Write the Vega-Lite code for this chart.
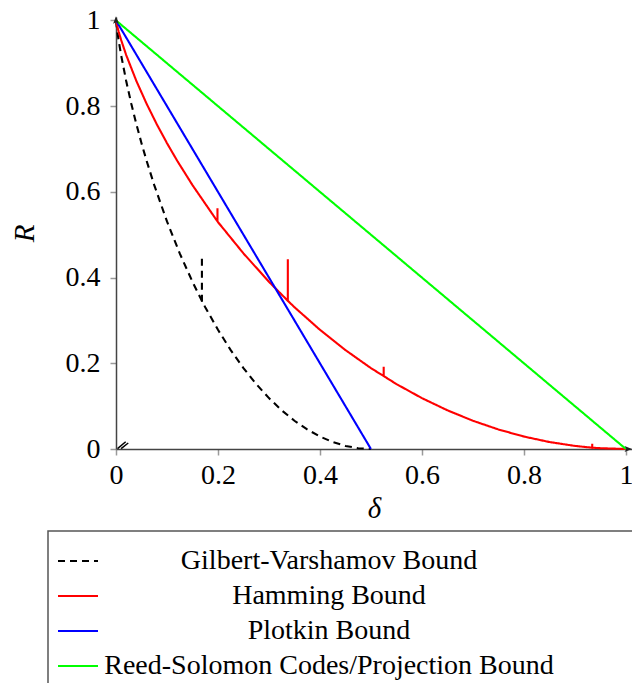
{
  "$schema": "https://vega.github.io/schema/vega-lite/v6.json",
  "width": 516,
  "height": 432,
  "autosize": {"type": "none"},
  "padding": {"left": 116, "top": 17, "right": 0, "bottom": 234},
  "background": "white",
  "datasets": {
    "bounds": [
      {"s": "Gilbert-Varshamov Bound", "i": 0, "d": 0, "r": 1},
      {"s": "Gilbert-Varshamov Bound", "i": 1, "d": 0.001, "r": 0.9886},
      {"s": "Gilbert-Varshamov Bound", "i": 2, "d": 0.0025, "r": 0.9748},
      {"s": "Gilbert-Varshamov Bound", "i": 3, "d": 0.005, "r": 0.9546},
      {"s": "Gilbert-Varshamov Bound", "i": 4, "d": 0.01, "r": 0.9192},
      {"s": "Gilbert-Varshamov Bound", "i": 5, "d": 0.02, "r": 0.8586},
      {"s": "Gilbert-Varshamov Bound", "i": 6, "d": 0.03, "r": 0.8056},
      {"s": "Gilbert-Varshamov Bound", "i": 7, "d": 0.04, "r": 0.7577},
      {"s": "Gilbert-Varshamov Bound", "i": 8, "d": 0.05, "r": 0.7136},
      {"s": "Gilbert-Varshamov Bound", "i": 9, "d": 0.06, "r": 0.6726},
      {"s": "Gilbert-Varshamov Bound", "i": 10, "d": 0.075, "r": 0.6157},
      {"s": "Gilbert-Varshamov Bound", "i": 11, "d": 0.1, "r": 0.531},
      {"s": "Gilbert-Varshamov Bound", "i": 12, "d": 0.125, "r": 0.4564},
      {"s": "Gilbert-Varshamov Bound", "i": 13, "d": 0.15, "r": 0.3902},
      {"s": "Gilbert-Varshamov Bound", "i": 14, "d": 0.1685, "r": 0.3458},
      {"s": "Gilbert-Varshamov Bound", "i": 17, "d": 0.175, "r": 0.3309},
      {"s": "Gilbert-Varshamov Bound", "i": 18, "d": 0.2, "r": 0.2781},
      {"s": "Gilbert-Varshamov Bound", "i": 19, "d": 0.225, "r": 0.2308},
      {"s": "Gilbert-Varshamov Bound", "i": 20, "d": 0.25, "r": 0.1887},
      {"s": "Gilbert-Varshamov Bound", "i": 21, "d": 0.275, "r": 0.1515},
      {"s": "Gilbert-Varshamov Bound", "i": 22, "d": 0.3, "r": 0.1187},
      {"s": "Gilbert-Varshamov Bound", "i": 23, "d": 0.325, "r": 0.0903},
      {"s": "Gilbert-Varshamov Bound", "i": 24, "d": 0.35, "r": 0.0659},
      {"s": "Gilbert-Varshamov Bound", "i": 25, "d": 0.375, "r": 0.0456},
      {"s": "Gilbert-Varshamov Bound", "i": 26, "d": 0.4, "r": 0.029},
      {"s": "Gilbert-Varshamov Bound", "i": 27, "d": 0.425, "r": 0.0163},
      {"s": "Gilbert-Varshamov Bound", "i": 28, "d": 0.45, "r": 0.0072},
      {"s": "Gilbert-Varshamov Bound", "i": 29, "d": 0.475, "r": 0.0019},
      {"s": "Gilbert-Varshamov Bound", "i": 30, "d": 0.5, "r": 0},
      {"s": "Hamming Bound", "i": 0, "d": 0, "r": 1},
      {"s": "Hamming Bound", "i": 1, "d": 0.002, "r": 0.9886},
      {"s": "Hamming Bound", "i": 2, "d": 0.005, "r": 0.9748},
      {"s": "Hamming Bound", "i": 3, "d": 0.01, "r": 0.9546},
      {"s": "Hamming Bound", "i": 4, "d": 0.02, "r": 0.9192},
      {"s": "Hamming Bound", "i": 5, "d": 0.04, "r": 0.8586},
      {"s": "Hamming Bound", "i": 6, "d": 0.06, "r": 0.8056},
      {"s": "Hamming Bound", "i": 7, "d": 0.08, "r": 0.7577},
      {"s": "Hamming Bound", "i": 8, "d": 0.1, "r": 0.7136},
      {"s": "Hamming Bound", "i": 9, "d": 0.12, "r": 0.6726},
      {"s": "Hamming Bound", "i": 10, "d": 0.15, "r": 0.6157},
      {"s": "Hamming Bound", "i": 11, "d": 0.199, "r": 0.531},
      {"s": "Hamming Bound", "i": 12, "d": 0.199, "r": 0.562},
      {"s": "Hamming Bound", "i": 13, "d": 0.199, "r": 0.531},
      {"s": "Hamming Bound", "i": 14, "d": 0.25, "r": 0.4564},
      {"s": "Hamming Bound", "i": 15, "d": 0.3, "r": 0.3902},
      {"s": "Hamming Bound", "i": 16, "d": 0.337, "r": 0.3458},
      {"s": "Hamming Bound", "i": 17, "d": 0.337, "r": 0.443},
      {"s": "Hamming Bound", "i": 18, "d": 0.337, "r": 0.3458},
      {"s": "Hamming Bound", "i": 19, "d": 0.35, "r": 0.3309},
      {"s": "Hamming Bound", "i": 20, "d": 0.4, "r": 0.2781},
      {"s": "Hamming Bound", "i": 21, "d": 0.45, "r": 0.2308},
      {"s": "Hamming Bound", "i": 22, "d": 0.5, "r": 0.1887},
      {"s": "Hamming Bound", "i": 23, "d": 0.525, "r": 0.1702},
      {"s": "Hamming Bound", "i": 24, "d": 0.525, "r": 0.192},
      {"s": "Hamming Bound", "i": 25, "d": 0.525, "r": 0.1702},
      {"s": "Hamming Bound", "i": 26, "d": 0.55, "r": 0.1515},
      {"s": "Hamming Bound", "i": 27, "d": 0.6, "r": 0.1187},
      {"s": "Hamming Bound", "i": 28, "d": 0.65, "r": 0.0903},
      {"s": "Hamming Bound", "i": 29, "d": 0.7, "r": 0.0659},
      {"s": "Hamming Bound", "i": 30, "d": 0.75, "r": 0.0456},
      {"s": "Hamming Bound", "i": 31, "d": 0.8, "r": 0.029},
      {"s": "Hamming Bound", "i": 32, "d": 0.85, "r": 0.0163},
      {"s": "Hamming Bound", "i": 33, "d": 0.9, "r": 0.0072},
      {"s": "Hamming Bound", "i": 34, "d": 0.934, "r": 0.003},
      {"s": "Hamming Bound", "i": 35, "d": 0.934, "r": 0.0125},
      {"s": "Hamming Bound", "i": 36, "d": 0.934, "r": 0.003},
      {"s": "Hamming Bound", "i": 37, "d": 0.95, "r": 0.0019},
      {"s": "Hamming Bound", "i": 38, "d": 1, "r": 0},
      {"s": "Plotkin Bound", "i": 0, "d": 0, "r": 1},
      {"s": "Plotkin Bound", "i": 1, "d": 0.5, "r": 0},
      {"s": "Reed-Solomon Codes/Projection Bound", "i": 0, "d": 0, "r": 1},
      {"s": "Reed-Solomon Codes/Projection Bound", "i": 1, "d": 1, "r": 0}
    ],
    "gvspike": [
      {"d": 0.1685, "r": 0.444},
      {"d": 0.1685, "r": 0.34}
    ],
    "origin": [
      {"g": "a", "d": 0.003, "r": 0.001},
      {"g": "a", "d": 0.019, "r": 0.017},
      {"g": "b", "d": 0.01, "r": 0.001},
      {"g": "b", "d": 0.024, "r": 0.014}
    ],
    "xtip": [{"d": 1.005, "r": 0}],
    "ytip": [{"d": 0, "r": 1.001}]
  },
  "layer": [
    {
      "data": {"name": "bounds"},
      "mark": {"type": "line", "strokeWidth": 2.1, "clip": false},
      "encoding": {
        "x": {"field": "d", "type": "quantitative", "title": "δ",
              "scale": {"domain": [0, 1.012], "nice": false, "zero": false},
              "axis": {"values": [0, 0.2, 0.4, 0.6, 0.8, 1], "format": "~g",
                       "encoding": {"ticks": {"update": {"y": {"value": -6}, "y2": {"value": 6}}}}}},
        "y": {"field": "r", "type": "quantitative", "title": "R",
              "scale": {"domain": [0, 1.008], "nice": false, "zero": false},
              "axis": {"values": [0, 0.2, 0.4, 0.6, 0.8, 1], "format": "~g",
                       "encoding": {"ticks": {"update": {"x": {"value": -6}, "x2": {"value": 6}}}}}},
        "color": {"field": "s", "type": "nominal", "title": " ",
                  "scale": {"domain": ["Gilbert-Varshamov Bound", "Hamming Bound", "Plotkin Bound", "Reed-Solomon Codes/Projection Bound"],
                            "range": ["#000000", "#ff0000", "#0000ff", "#00ff00"]},
                  "legend": {"orient": "none", "legendX": -68, "legendY": 514}},
        "strokeDash": {"field": "s", "type": "nominal", "title": " ",
                  "scale": {"domain": ["Gilbert-Varshamov Bound", "Hamming Bound", "Plotkin Bound", "Reed-Solomon Codes/Projection Bound"],
                            "range": [[7, 5], [1, 0], [1, 0], [1, 0]]},
                  "legend": {"orient": "none", "legendX": -68, "legendY": 514}},
        "order": {"field": "i", "type": "quantitative"}
      }
    },
    {
      "data": {"name": "gvspike"},
      "mark": {"type": "line", "strokeWidth": 2.1, "color": "#000000", "strokeDash": [7, 5], "clip": false},
      "encoding": {
        "x": {"field": "d", "type": "quantitative", "title": "δ"},
        "y": {"field": "r", "type": "quantitative", "title": "R"},
        "order": {"field": "r", "type": "quantitative", "sort": "descending"}
      }
    },
    {
      "data": {"name": "origin"},
      "mark": {"type": "line", "strokeWidth": 1.5, "color": "#000000", "clip": false},
      "encoding": {
        "x": {"field": "d", "type": "quantitative", "title": "δ"},
        "y": {"field": "r", "type": "quantitative", "title": "R"},
        "detail": {"field": "g", "type": "nominal"}
      }
    },
    {
      "data": {"name": "xtip"},
      "mark": {"type": "point", "shape": "M-1,-0.75L1,0L-1,0.75L-0.55,0Z", "size": 60, "filled": true, "color": "#222222", "opacity": 1, "clip": false},
      "encoding": {
        "x": {"field": "d", "type": "quantitative", "title": "δ"},
        "y": {"field": "r", "type": "quantitative", "title": "R"}
      }
    },
    {
      "data": {"name": "ytip"},
      "mark": {"type": "point", "shape": "M-0.75,1L0,-1L0.75,1L0,0.55Z", "size": 60, "filled": true, "color": "#222222", "opacity": 1, "clip": false},
      "encoding": {
        "x": {"field": "d", "type": "quantitative", "title": "δ"},
        "y": {"field": "r", "type": "quantitative", "title": "R"}
      }
    }
  ],
  "config": {
    "view": {"stroke": null},
    "font": "Liberation Serif",
    "axis": {
      "grid": false,
      "labelFont": "Liberation Serif",
      "labelFontSize": 28,
      "labelColor": "#000000",
      "titleFont": "Liberation Serif",
      "titleFontSize": 29,
      "titleFontWeight": "normal",
      "titleFontStyle": "italic",
      "titleColor": "#000000",
      "domainColor": "#444444",
      "domainWidth": 1.5,
      "tickColor": "#9a9a9a",
      "tickWidth": 1.5,
      "tickSize": 6,
      "labelFlush": false,
      "labelOverlap": false
    },
    "axisX": {"labelPadding": 6, "titlePadding": 5},
    "axisY": {"labelPadding": 10, "titlePadding": 26},
    "legend": {
      "padding": 9,
      "strokeColor": "#555555",
      "strokeWidth": 1.5,
      "fillColor": "white",
      "symbolType": "stroke",
      "symbolSize": 1600,
      "symbolStrokeWidth": 2,
      "labelFont": "Liberation Serif",
      "labelFontSize": 28,
      "labelColor": "#000000",
      "labelAlign": "center",
      "labelOffset": 230,
      "labelLimit": 700,
      "rowPadding": -7,
      "titleOrient": "right",
      "titlePadding": 120,
      "titleFontSize": 10
    }
  }
}
